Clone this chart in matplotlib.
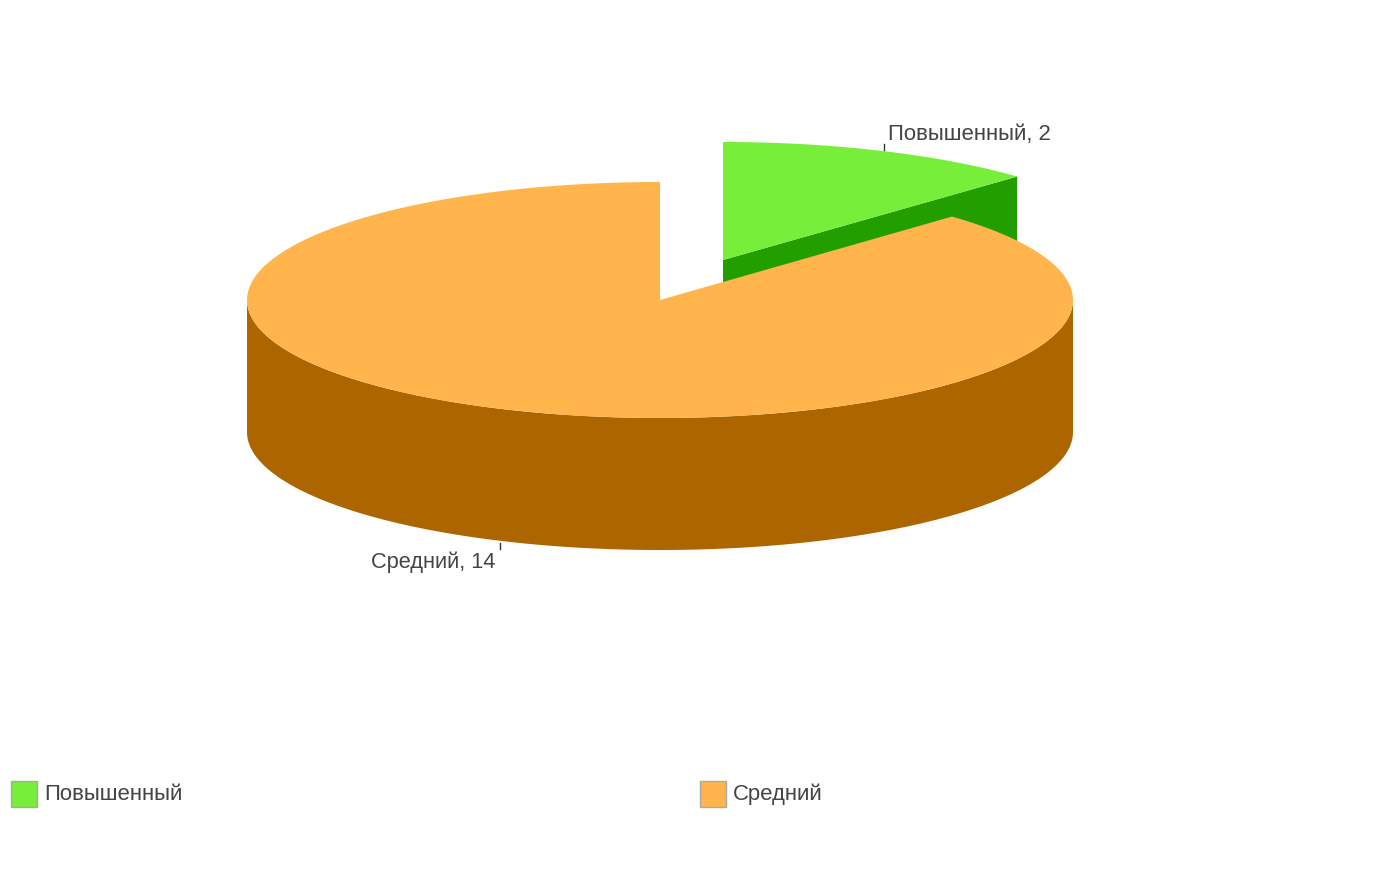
import numpy as np
import matplotlib
matplotlib.use('Agg')
import matplotlib.pyplot as plt
from matplotlib.patches import Polygon, Rectangle

plt.rcParams['font.family'] = ['Liberation Sans', 'DejaVu Sans']

categories = ['Повышенный', 'Средний']
values = [2, 14]
top_colors = ['#76ee3a', '#ffb44c']
side_colors = ['#229e00', '#ad6500']
text_color = '#444444'


def ellipse_point(cx, cy, rx, ry, angle):
    """Angle is in degrees, clockwise from the top of the pie."""
    a = np.radians(angle)
    return cx + rx * np.sin(a), cy - ry * np.cos(a)


def slice_outline(cx, cy, rx, ry, start, stop):
    angles = np.linspace(start, stop, 200)
    xs, ys = ellipse_point(cx, cy, rx, ry, angles)
    return np.column_stack([np.r_[cx, xs], np.r_[cy, ys]])


def side_wall(cx, cy, rx, ry, depth, start, stop):
    """Outer curved wall of the pie between two angles."""
    angles = np.linspace(start, stop, 200)
    xs, ys = ellipse_point(cx, cy, rx, ry, angles)
    return np.column_stack([np.r_[xs, xs[::-1]], np.r_[ys, ys[::-1] + depth]])


fig = plt.figure(figsize=(13.73, 8.9), dpi=100)
ax = fig.add_axes([0, 0, 1, 1])
ax.set_xlim(0, 1373)
ax.set_ylim(890, 0)
ax.axis('off')

cx, cy = 660, 300
rx, ry = 413, 118
depth = 132
offset_x, offset_y = 63, -40
green_rx = 416

sweep = [v / sum(values) * 360 for v in values]
g_stop = sweep[0]

# exploded slice, its cut face goes behind the big slice
gx, gy = cx + offset_x, cy + offset_y
ex, ey = ellipse_point(gx, gy, green_rx, ry, g_stop)
ax.add_patch(Polygon([[gx, gy], [ex, ey], [ex, ey + depth], [gx, gy + depth]],
                     closed=True, fc=side_colors[0], ec='none', zorder=1))
ax.add_patch(Polygon(slice_outline(gx, gy, green_rx, ry, 0, g_stop),
                     closed=True, fc=top_colors[0], ec='none', zorder=2))

# big slice: wall first, then top
ax.add_patch(Polygon(side_wall(cx, cy, rx, ry, depth, 90, 270),
                     closed=True, fc=side_colors[1], ec='none', zorder=3))
ax.add_patch(Polygon(slice_outline(cx, cy, rx, ry, g_stop, 360),
                     closed=True, fc=top_colors[1], ec='none', zorder=4))

# data labels with the short tick marks
ax.plot([884, 884], [144, 150], color='#333333', lw=1, zorder=5)
ax.text(888, 140, f'{categories[0]}, {values[0]}', fontsize=15.9, color=text_color,
        ha='left', va='baseline')
ax.plot([499.5, 499.5], [543, 549], color='#333333', lw=1, zorder=5)
ax.text(371, 568, f'{categories[1]}, {values[1]}', fontsize=15.7, color=text_color,
        ha='left', va='baseline')

# legend
legend_x = [11, 700]
for x, name, color in zip(legend_x, categories, top_colors):
    ax.add_patch(Rectangle((x, 781), 26, 26, fc=color, ec='#a8a8a8', lw=1))
    ax.text(x + 33, 800, name, fontsize=15.9, color=text_color, ha='left', va='baseline')

fig.savefig('out.png', dpi=100, facecolor='white')
